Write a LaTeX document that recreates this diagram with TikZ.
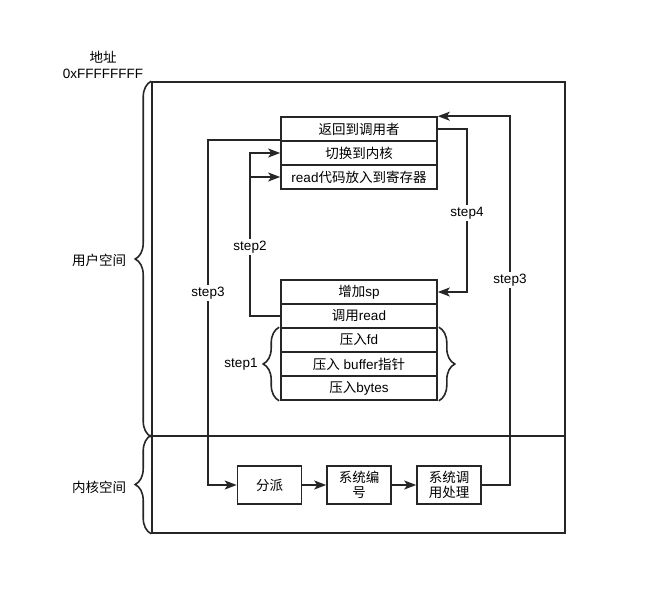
\documentclass[tikz,border=0pt]{standalone}
\usepackage{fontspec}
\setmainfont{Liberation Sans}
\newfontfamily\cjk{Noto Sans CJK SC}
\newcommand{\zh}[1]{{\cjk #1}}
\usetikzlibrary{arrows.meta, positioning, calc, decorations.pathreplacing}

\begin{document}
\begin{tikzpicture}[
    x=1pt, y=-1pt,
    font=\fontsize{13.5}{15.5}\selectfont,
    line width=1.6pt, draw=black!85,
    region/.style={rectangle, draw, minimum width=413pt, inner sep=0pt},
    row/.style={rectangle, draw, minimum width=156pt, minimum height=24pt, inner sep=1pt},
    sysbox/.style={rectangle, draw, minimum width=64pt, minimum height=38pt, align=center, inner sep=1pt},
    arrow/.style={-{Stealth[length=12pt, width=9pt, inset=3pt]}},
    lbl/.style={fill=white, inner sep=2pt},
    curly/.style={decorate, decoration={brace, amplitude=16pt}}
]
    \useasboundingbox (0,0) rectangle (647,603);

    % outer regions
    \node[region, minimum height=354pt] (user) at (358.5,259) {};
    \node[region, minimum height=97pt] (kern) at (358.5,484.5) {};
    \draw[curly] (user.south west) -- (user.north west);
    \draw[curly] (kern.south west) -- (kern.north west);
    \node[align=center] (addr) at (103,65) {\zh{地址}\\0xFFFFFFFF};
    \node (ulbl) at (99,260) {\zh{用户空间}};
    \node (klbl) at (99,487) {\zh{内核空间}};

    % upper stack
    \node[row] (ret) at (359,129) {\zh{返回到调用者}};
    \node[row] (switch) at (359,153) {\zh{切换到内核}};
    \node[row] (reg) at (359,177) {read\zh{代码放入到寄存器}};

    % lower stack
    \node[row] (sp) at (359,292) {\zh{增加}sp};
    \node[row] (call) at (359,316) {\zh{调用}read};
    \node[row] (fd) at (359,340) {\zh{压入}fd};
    \node[row] (buf) at (359,364) {\zh{压入} buffer\zh{指针}};
    \node[row] (bytes) at (359,388) {\zh{压入}bytes};
    \draw[curly] ($(bytes.south west)+(-1,0)$) -- ($(fd.north west)+(-1,0)$);
    \draw[curly] ($(fd.north east)+(1,0)$) -- ($(bytes.south east)+(1,0)$);
    \node (s1) at (241,364) {step1};

    % kernel boxes
    \node[sysbox] (disp) at (269.5,485) {\zh{分派}};
    \node[sysbox] (sysno) at (359,485) {\zh{系统编}\\\zh{号}};
    \node[sysbox] (handle) at (449,485) {\zh{系统调}\\\zh{用处理}};
    \draw[arrow] (disp) -- (sysno);
    \draw[arrow] (sysno) -- (handle);

    % connectors
    \coordinate (lx2) at (250,0);
    \coordinate (lx3) at (208,0);
    \coordinate (rx4) at (467,0);
    \coordinate (rx3) at (510,0);

    \draw[arrow] (call.west) -| (lx2 |- switch.west) -- (switch.west);
    \draw[arrow] (lx2 |- reg.west) -- (reg.west);
    \node[lbl] (s2) at (250,247) {step2};

    \draw[arrow] (switch.north west) -| (lx3 |- disp.west) -- (disp.west);
    \node[lbl] (s3a) at (208,293) {step3};

    \draw[arrow] (handle.east) -| (rx3 |- ret.north east) -- (ret.north east);
    \node[lbl] (s3b) at (510,280) {step3};

    \draw[arrow] (ret.east) -| (rx4 |- sp.east) -- (sp.east);
    \node[lbl] (s4) at (467,213) {step4};
\end{tikzpicture}
\end{document}
